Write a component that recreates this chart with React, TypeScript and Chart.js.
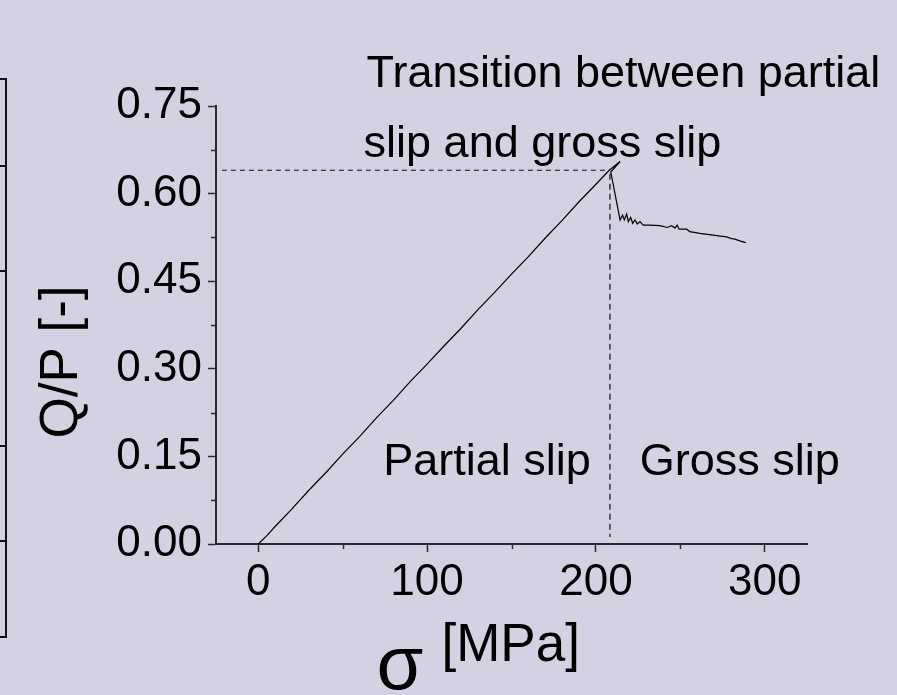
import React, { useEffect, useRef } from 'react';
import { Chart, registerables } from 'chart.js';

Chart.register(...registerables);

// ---- data ----
const sigmaLoading = [0, 5, 10, 20, 30, 40, 50, 60, 70, 80, 90, 100, 110, 120, 130, 140, 150, 160, 170, 180, 190, 200, 207.9];
const qpLoading = [0, 0.014, 0.030, 0.060, 0.092, 0.122, 0.154, 0.184, 0.216, 0.246, 0.278, 0.308, 0.339, 0.369, 0.401, 0.431, 0.462, 0.492, 0.524, 0.554, 0.586, 0.616, 0.640];

const sigmaSliding = [214.3, 208.8, 214.3, 215.8, 216.8, 218.2, 219.2, 220.6, 221.8, 223.1, 224.5, 226.1, 228.0, 232.0, 237.9, 242.2, 244.8, 246.8, 248.1, 249.3, 253.7, 255.6, 261.6, 269.4, 277.3, 280.3, 282.3, 285.2, 288.8];
const qpSliding = [0.655, 0.637, 0.555, 0.563, 0.555, 0.565, 0.552, 0.559, 0.549, 0.555, 0.548, 0.552, 0.546, 0.546, 0.545, 0.542, 0.545, 0.541, 0.546, 0.539, 0.539, 0.535, 0.532, 0.529, 0.526, 0.523, 0.522, 0.519, 0.516];

const hDashSigma = [-21.5, 208.3];
const hDashQP = [0.64, 0.64];
const vDashSigma = [208.3, 208.3];
const vDashQP = [0.634, 0.012];

const xTicks = [0, 100, 200, 300];
const xMinorTicks = [50, 150, 250];
const yTicks = [0, 0.15, 0.3, 0.45, 0.6, 0.75];
const yMinorTicks = [0.075, 0.225, 0.375, 0.525, 0.675];

const xTitleSymbol = 'σ';
const xTitleUnit = '[MPa]';
const yTitle = 'Q/P [-]';
const labelPartial = 'Partial slip';
const labelGross = 'Gross slip';
const labelTransition1 = 'Transition between partial';
const labelTransition2 = 'slip and gross slip';

const FONT = "'Liberation Sans', Arial, Helvetica, sans-serif";
const BG = '#d3d2e2';
const AXIS = '#2a2a2a';

const toPts = (xs: number[], ys: number[]) => xs.map((x, i) => ({ x, y: ys[i] }));

const decorPlugin = {
  id: 'decor',
  afterDraw(chart: any) {
    const { ctx, chartArea } = chart;
    const xs = chart.scales.x;
    const ys = chart.scales.y;
    ctx.save();
    // minor ticks
    ctx.strokeStyle = AXIS;
    ctx.lineWidth = 1.5;
    ctx.beginPath();
    yMinorTicks.forEach((v) => {
      const py = Math.round(ys.getPixelForValue(v)) + 0.5;
      ctx.moveTo(chartArea.left - 5, py);
      ctx.lineTo(chartArea.left, py);
    });
    xMinorTicks.forEach((v) => {
      const px = Math.round(xs.getPixelForValue(v)) + 0.5;
      ctx.moveTo(px, chartArea.bottom);
      ctx.lineTo(px, chartArea.bottom + 5);
    });
    ctx.stroke();

    ctx.fillStyle = '#000';
    ctx.textBaseline = 'alphabetic';
    ctx.textAlign = 'left';
    // annotations
    ctx.font = `45px ${FONT}`;
    ctx.fillText(labelPartial, xs.getPixelForValue(74), ys.getPixelForValue(0.118));
    ctx.fillText(labelGross, xs.getPixelForValue(226), ys.getPixelForValue(0.118));
    ctx.fillText(labelTransition1, xs.getPixelForValue(64.2), ys.getPixelForValue(0.783));
    ctx.fillText(labelTransition2, xs.getPixelForValue(62.4), ys.getPixelForValue(0.663));

    // x title
    const cx = (chartArea.left + chartArea.right) / 2;
    ctx.font = `76px ${FONT}`;
    ctx.fillText(xTitleSymbol, cx - 135, 689);
    ctx.font = `53px ${FONT}`;
    ctx.fillText(xTitleUnit, cx - 70, 661);

    // y title
    ctx.save();
    ctx.translate(77, 362);
    ctx.rotate(-Math.PI / 2);
    ctx.textAlign = 'center';
    ctx.font = `53px ${FONT}`;
    ctx.fillText(yTitle, 0, 0);
    ctx.restore();

    ctx.restore();
  },
};

export default function App() {
  const ref = useRef<HTMLCanvasElement | null>(null);

  useEffect(() => {
    if (!ref.current) return;
    const chart = new Chart(ref.current, {
      type: 'scatter',
      data: {
        datasets: [
          {
            data: toPts([...sigmaLoading, ...sigmaSliding], [...qpLoading, ...qpSliding]),
            showLine: true,
            borderColor: '#000',
            borderWidth: 1.2,
            pointRadius: 0,
            tension: 0,
          },
          {
            data: toPts(hDashSigma, hDashQP),
            showLine: true,
            borderColor: '#111',
            borderWidth: 1.2,
            borderDash: [5, 4],
            pointRadius: 0,
          },
          {
            data: toPts(vDashSigma, vDashQP),
            showLine: true,
            borderColor: '#111',
            borderWidth: 1.2,
            borderDash: [6, 4],
            pointRadius: 0,
          },
        ],
      },
      options: {
        responsive: false,
        animation: false,
        devicePixelRatio: 1,
        layout: { padding: { top: 106, right: 90, left: 0, bottom: 0 } },
        plugins: { legend: { display: false }, tooltip: { enabled: false }, title: { display: false } },
        scales: {
          x: {
            type: 'linear',
            min: -25,
            max: 325,
            afterFit: (s: any) => { s.height = 151; },
            afterBuildTicks: (s: any) => { s.ticks = xTicks.map((v) => ({ value: v })); },
            border: { display: true, color: AXIS, width: 2 },
            grid: { display: true, drawOnChartArea: false, drawTicks: true, tickLength: 8, tickColor: AXIS, tickWidth: 1.5 },
            ticks: { color: '#000', font: { family: FONT, size: 44 }, padding: 4, maxRotation: 0, autoSkip: false, callback: (v: any) => String(v) },
          },
          y: {
            type: 'linear',
            min: 0,
            max: 0.75,
            afterFit: (s: any) => { s.width = 216; },
            afterBuildTicks: (s: any) => { s.ticks = yTicks.map((v) => ({ value: v })); },
            border: { display: true, color: AXIS, width: 2 },
            grid: { display: true, drawOnChartArea: false, drawTicks: true, tickLength: 8, tickColor: AXIS, tickWidth: 1.5 },
            ticks: { color: '#000', font: { family: FONT, size: 44 }, padding: 6, autoSkip: false, callback: (v: any) => Number(v).toFixed(2) },
          },
        },
      },
      plugins: [decorPlugin],
    });
    return () => chart.destroy();
  }, []);

  const tick = (top: number) => (
    <div style={{ position: 'absolute', left: 0, top, width: 5, height: 2, background: '#111' }} />
  );

  return (
    <div style={{ position: 'fixed', left: 0, top: 0, width: 897, height: 695, background: BG, overflow: 'hidden' }}>
      <div style={{ position: 'absolute', left: -10, top: 78, width: 13, height: 556, border: '2.5px solid #111' }} />
      {tick(165)}
      {tick(270)}
      {tick(445)}
      {tick(540)}
      <canvas ref={ref} width={897} height={695} style={{ position: 'absolute', left: 0, top: 0, display: 'block' }} />
    </div>
  );
}
